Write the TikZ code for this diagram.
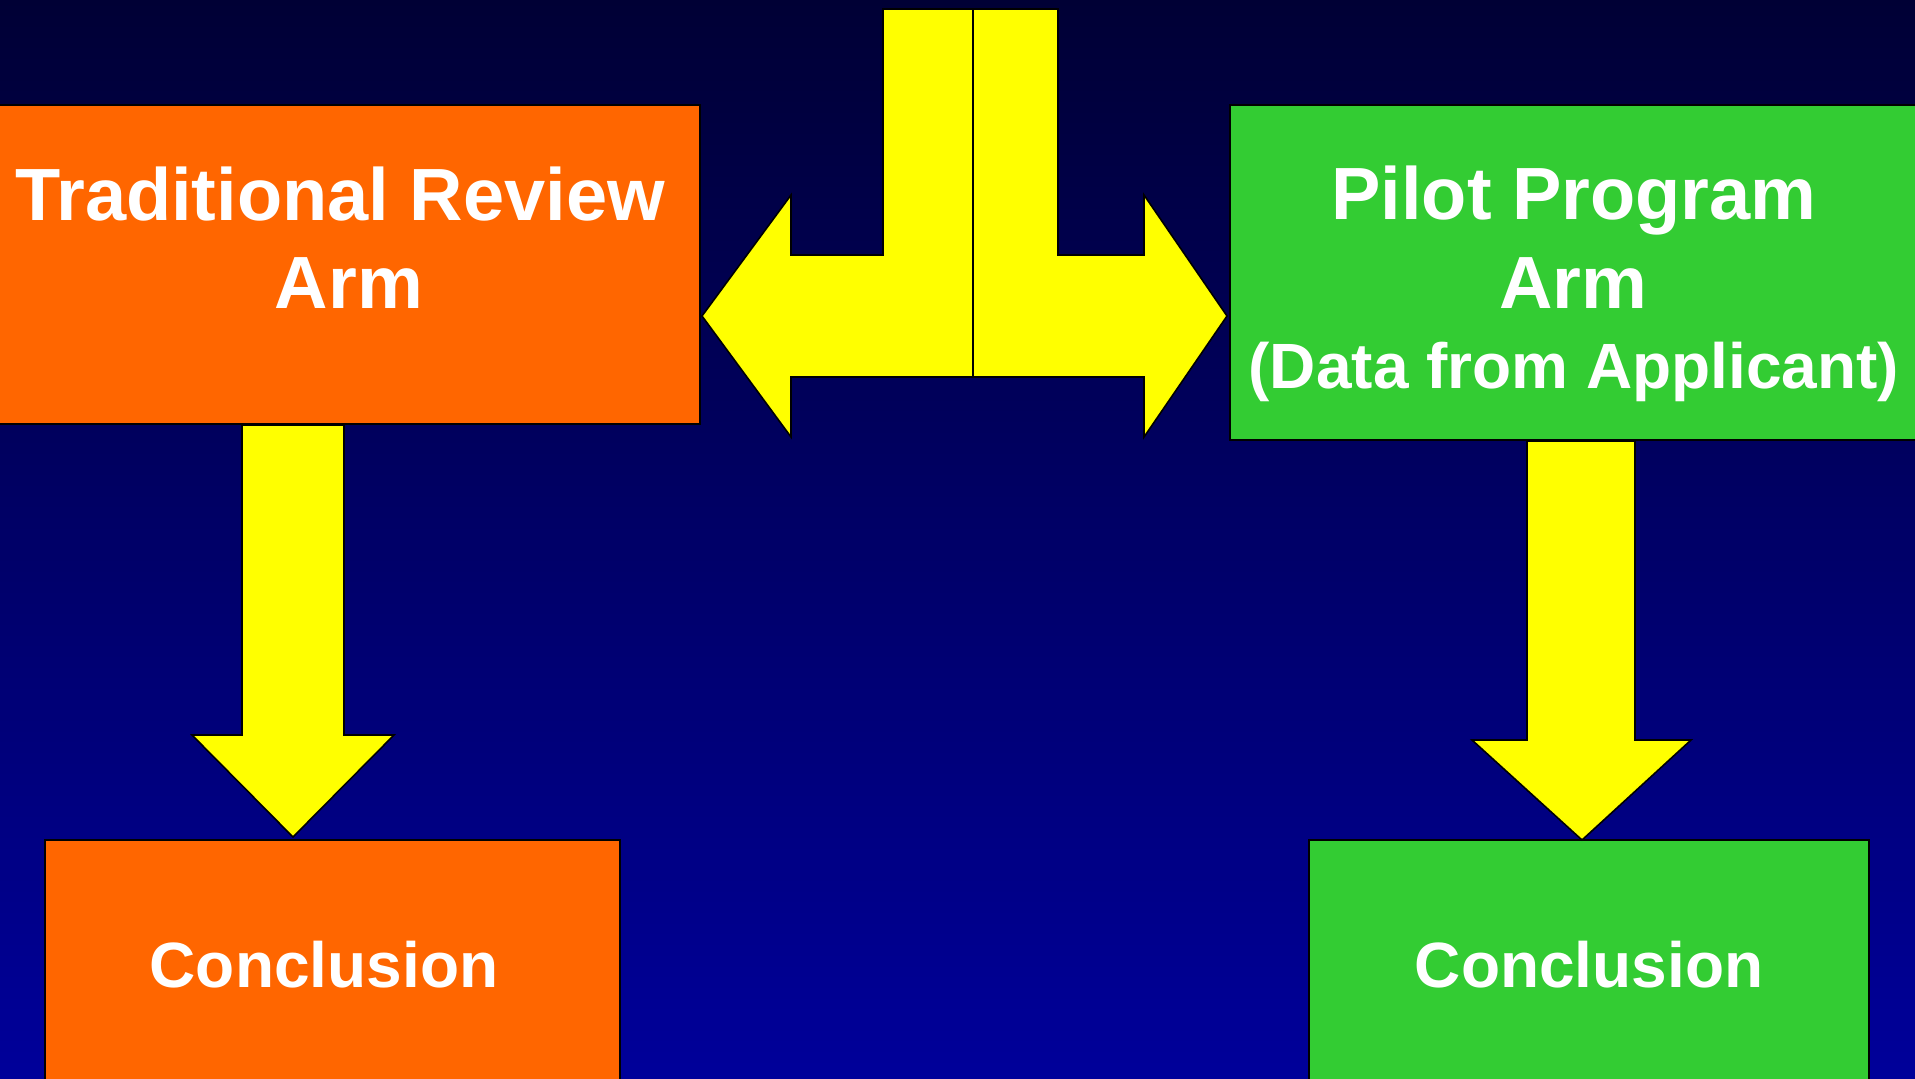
\documentclass[tikz,border=0pt]{standalone}
\usepackage{fontspec}
\setmainfont{Liberation Sans}
\usetikzlibrary{positioning}
\definecolor{navytop}{HTML}{000035}
\definecolor{navybot}{HTML}{00009A}
\definecolor{armorange}{HTML}{FF6600}
\definecolor{armgreen}{HTML}{33CC33}
\definecolor{arrowyel}{HTML}{FFFF00}
\begin{document}
\begin{tikzpicture}[x=0.5pt,y=-0.5pt]
\tikzstyle{armbox}=[draw=black,line width=.8pt,inner sep=0pt,rectangle]
\tikzstyle{bigtxt}=[text=white,font=\fontsize{37}{44}\selectfont\bfseries,anchor=base,inner sep=0pt]
\tikzstyle{smalltxt}=[text=white,font=\fontsize{32}{38}\selectfont\bfseries,anchor=base,inner sep=0pt]
\tikzstyle{yarrow}=[fill=arrowyel,draw=black,line width=.8pt,line join=miter]
\useasboundingbox (0,0) rectangle (1915,1078);
\clip (0,0) rectangle (1915,1078);
\shade [top color=navytop,bottom color=navybot] (0,0) rectangle (1915,1078);
% boxes
\node [armbox,fill=armorange,minimum width=352.5pt,minimum height=159.5pt] (trad) at (347.5,264.5) {};
\node [armbox,fill=armgreen,minimum width=345pt,minimum height=167.5pt] (pilot) at (1575,272.5) {};
\node [armbox,fill=armorange,minimum width=287.5pt,minimum height=122.5pt] (tradend) at (332.5,962.5) {};
\node [armbox,fill=armgreen,minimum width=280pt,minimum height=122.5pt] (pilotend) at (1589,962.5) {};
% texts
\node [bigtxt] (tradtop) at (340,220) {Traditional Review};
\node [bigtxt] (tradarm) at (349,308) {Arm};
\node [bigtxt] (pilottop) at (1574,219) {Pilot Program};
\node [bigtxt] (pilotarm) at (1573,308) {Arm};
\node [smalltxt] (pilotdata) at (1574,388) {(Data from Applicant)};
\node [smalltxt] (tradconc) at (324,987) {Conclusion};
\node [smalltxt] (pilotconc) at (1589,987) {Conclusion};
% split arrow
\draw [yarrow] (883,9) -- (973,9) -- (973,377) -- (791,377) -- (791,437) -- (702,316)
  -- (791,195) -- (791,255) -- (883,255) -- cycle;
\draw [yarrow] (973,9) -- (1058,9) -- (1058,255) -- (1144,255) -- (1144,195) -- (1227,316)
  -- (1144,437) -- (1144,377) -- (973,377) -- cycle;
% down arrows
\draw [yarrow] (242,425) -- (242,735) -- (192,735) -- (293,837) -- (394,735) -- (344,735) -- (344,425) -- cycle;
\draw [yarrow] (1527,441) -- (1527,740) -- (1472,740) -- (1582,840) -- (1691,740) -- (1635,740) -- (1635,441) -- cycle;
\end{tikzpicture}
\end{document}
